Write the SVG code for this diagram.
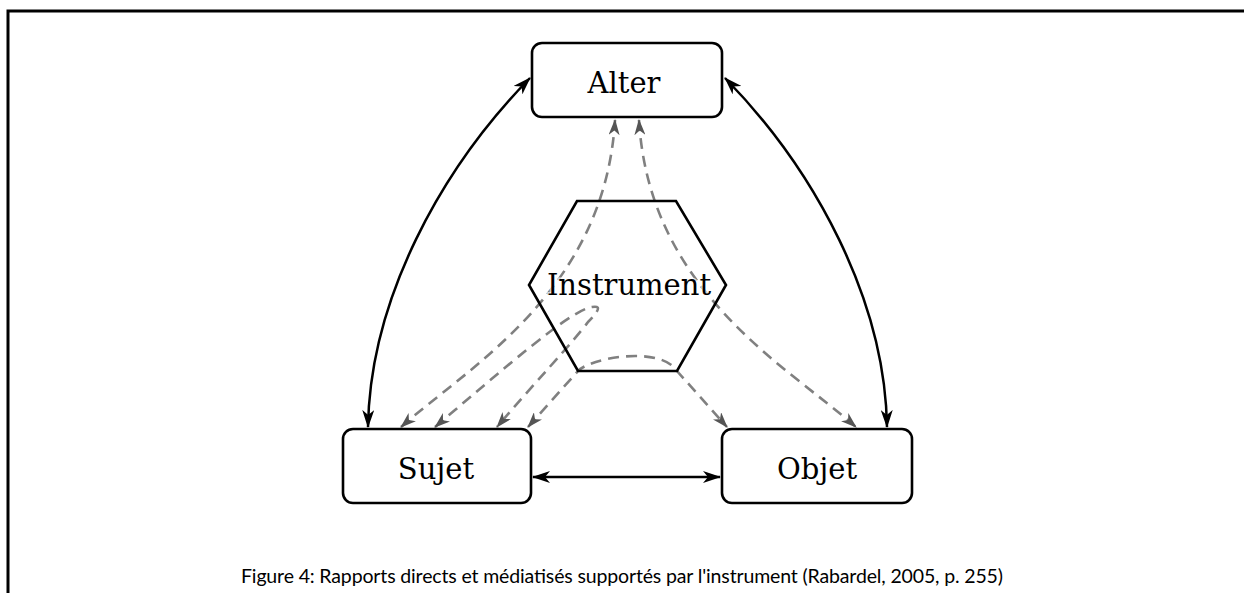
<svg xmlns="http://www.w3.org/2000/svg" width="1244" height="593" viewBox="0 0 1244 593">
<style>
.box{fill:#fff;stroke:#000;stroke-width:2.6}
.lbl{font-family:"DejaVu Serif",serif;font-size:29px;fill:#000;text-anchor:middle}
.solid{fill:none;stroke:#000;stroke-width:2.5}
.dash{fill:none;stroke:#808080;stroke-width:2.6;stroke-dasharray:11 7}
.cap{font-family:Lato,"Open Sans",sans-serif;font-size:19.5px;fill:#000;text-anchor:middle}
</style>
<defs>
<marker id="ab" viewBox="0 0 18 12" refX="17" refY="6" markerWidth="18" markerHeight="12" markerUnits="userSpaceOnUse" orient="auto-start-reverse">
<path d="M0,0 L18,6 L0,12 L5,6 z" fill="#000"/>
</marker>
<marker id="ag" viewBox="0 0 16 11" refX="15" refY="5.5" markerWidth="16" markerHeight="11" markerUnits="userSpaceOnUse" orient="auto-start-reverse">
<path d="M0,0 L16,5.5 L0,11 L4.5,5.5 z" fill="#555"/>
</marker>
</defs>
<rect width="1244" height="593" fill="#fff"/>
<path d="M8,593 V11 H1244" fill="none" stroke="#000" stroke-width="3"/>

<g id="connectors">
<path class="solid" d="M368,427 C370,300 440,170 530,78" marker-start="url(#ab)" marker-end="url(#ab)"/>
<path class="solid" d="M887,427 C885,300 815,170 725,78" marker-start="url(#ab)" marker-end="url(#ab)"/>
<path class="solid" d="M533,477 H720" marker-start="url(#ab)" marker-end="url(#ab)"/>
<path class="dash" d="M401,427 C470,366 605,290 615,120" marker-start="url(#ag)" marker-end="url(#ag)"/>
<path class="dash" d="M639,120 C649,290 784,364 856,427" marker-start="url(#ag)" marker-end="url(#ag)"/>
<path class="dash" d="M435,427 C500,372 570,310 592,307 C603,305 597,313 588,322 C575,340 530,388 497,427" marker-start="url(#ag)" marker-end="url(#ag)"/>
<path class="dash" d="M528,427 L578,371 C590,358 660,345 677,371 L727,427" marker-start="url(#ag)" marker-end="url(#ag)"/>
</g>

<g id="alter">
<rect class="box" x="532" y="43" width="190" height="74" rx="10"/>
<text class="lbl" x="624" y="93">Alter</text>
</g>
<g id="sujet">
<rect class="box" x="343" y="429" width="188" height="74" rx="10"/>
<text class="lbl" x="436" y="479">Sujet</text>
</g>
<g id="objet">
<rect class="box" x="722" y="429" width="190" height="74" rx="10"/>
<text class="lbl" x="817" y="479">Objet</text>
</g>
<g id="instrument">
<polygon points="577,201 676,201 726,285 677,371 578,371 529,285" fill="none" stroke="#000" stroke-width="2.6"/>
<text class="lbl" x="629" y="295" stroke="#fff" stroke-width="3" stroke-opacity="0.7" paint-order="stroke">Instrument</text>
</g>

<text class="cap" x="622" y="583" textLength="762" lengthAdjust="spacing">Figure 4: Rapports directs et médiatisés supportés par l'instrument (Rabardel, 2005, p. 255)</text>
</svg>
